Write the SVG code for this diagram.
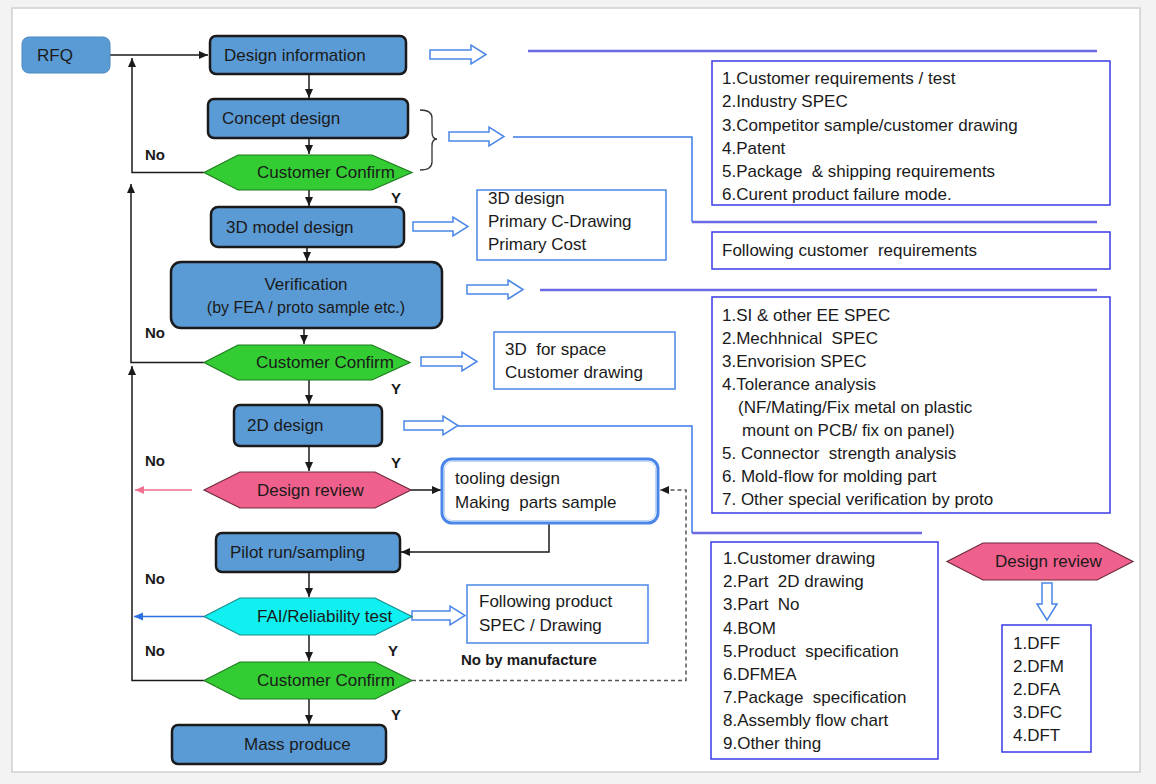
<svg xmlns="http://www.w3.org/2000/svg" width="1156" height="784" viewBox="0 0 1156 784">
<defs>
<style>
text{font-family:"Liberation Sans",Arial,sans-serif;font-size:17px;fill:#1a1a1a}
.node{fill:#5b9bd5;stroke:#1a1a1a;stroke-width:2.5}
.green{fill:#33cc33;stroke:#1f7a1f;stroke-width:1.2}
.pink{fill:#f0608c;stroke:#6a2a3a;stroke-width:1.2}
.cyan{fill:#10f0f0;stroke:#1a8a8a;stroke-width:1.2}
.box{fill:#fff;stroke:#3a3ae8;stroke-width:1.5}
.lbox{fill:#fff;stroke:#4a86e8;stroke-width:1.5}
.barrow{fill:#fff;stroke:#4a86e8;stroke-width:1.5}
.con{fill:none;stroke:#1a1a1a;stroke-width:1.5}
.line{fill:none;stroke:#6a6ae6;stroke-width:2.5}
.bline{fill:none;stroke:#3d7be8;stroke-width:1.5}
.b{font-weight:bold;font-size:15px}
.s{font-size:16px}
</style>
<marker id="ah" markerWidth="10" markerHeight="10" refX="9" refY="5" orient="auto" markerUnits="userSpaceOnUse"><path d="M0,1 L9,5 L0,9 Z" fill="#1a1a1a"/></marker>
<marker id="ahp" markerWidth="10" markerHeight="10" refX="9" refY="5" orient="auto" markerUnits="userSpaceOnUse"><path d="M0,1 L9,5 L0,9 Z" fill="#f07090"/></marker>
<marker id="ahb" markerWidth="10" markerHeight="10" refX="9" refY="5" orient="auto" markerUnits="userSpaceOnUse"><path d="M0,1 L9,5 L0,9 Z" fill="#2b6fe0"/></marker>
</defs>
<rect x="0" y="0" width="1156" height="784" fill="#f3f3f3"/>
<rect x="12" y="8" width="1128" height="764" fill="#fff" stroke="#cfcfcf" stroke-width="1.5"/>

<g id="connectors">
<path class="con" d="M110,55 H208" marker-end="url(#ah)"/>
<path class="con" d="M204,172.5 H132 V58" marker-end="url(#ah)"/>
<path class="con" d="M309,74 V98" marker-end="url(#ah)"/>
<path class="con" d="M309,138 V154" marker-end="url(#ah)"/>
<path class="con" d="M309,190 V206" marker-end="url(#ah)"/>
<path class="con" d="M307,247 V261" marker-end="url(#ah)"/>
<path class="con" d="M304,328 V344" marker-end="url(#ah)"/>
<path class="con" d="M204,362.5 H131 V184" marker-end="url(#ah)"/>
<path class="con" d="M309,380 V404" marker-end="url(#ah)"/>
<path class="con" d="M309,446 V471" marker-end="url(#ah)"/>
<path class="con" d="M411,490 H441" marker-end="url(#ah)"/>
<path d="M192,490 H135" fill="none" stroke="#f07090" stroke-width="1.5" marker-end="url(#ahp)"/>
<path class="con" d="M549,523 V552 H401" marker-end="url(#ah)"/>
<path class="con" d="M309,572 V597" marker-end="url(#ah)"/>
<path d="M204,616.5 H134" fill="none" stroke="#2b6fe0" stroke-width="1.5" marker-end="url(#ahb)"/>
<path class="con" d="M309,635 V661" marker-end="url(#ah)"/>
<path class="con" d="M309,699 V724" marker-end="url(#ah)"/>
<path class="con" d="M204,680.5 H132 V366" marker-end="url(#ah)"/>
<path d="M412,680.5 H686 V490 H660" fill="none" stroke="#555" stroke-width="1.5" stroke-dasharray="4,3" marker-end="url(#ah)"/>
<path class="line" d="M528,51 H1097"/>
<path class="bline" d="M513,137 H692 V222"/>
<path class="line" d="M692,222 H1097"/>
<path class="line" d="M540,290 H1097"/>
<path class="bline" d="M458,426 H692 V533"/>
<path class="line" d="M692,533 H922"/>
<path d="M420,110 Q432,110 432,118 V132 Q432,139 437,139 Q432,139 432,146 V162 Q432,170 420,170" fill="none" stroke="#333" stroke-width="1.3"/>
<polygon class="barrow" points="430,50 471,50 471,45 486,54.5 471,64 471,59 430,59"/>
<polygon class="barrow" points="449,132 489,132 489,127 504,136.5 489,146 489,141 449,141"/>
<polygon class="barrow" points="413,222 453,222 453,217 468,226.5 453,236 453,231 413,231"/>
<polygon class="barrow" points="467,285 508,285 508,280 523,289.5 508,299 508,294 467,294"/>
<polygon class="barrow" points="421,357 462,357 462,352 477,361.5 462,371 462,366 421,366"/>
<polygon class="barrow" points="404,421 443,421 443,416 458,425.5 443,435 443,430 404,430"/>
<polygon class="barrow" points="412,611 450,611 450,606 465,615.5 450,625 450,620 412,620"/>
<polygon class="barrow" points="1042,583 1052,583 1052,604 1057,604 1047,620 1037,604 1042,604"/>
</g>

<g id="rfq"><rect x="22" y="37" width="88" height="36" rx="7" fill="#5b9bd5" stroke="#4a88c0" stroke-width="1"/><text x="37" y="61">RFQ</text></g>
<g id="design-information"><rect class="node" x="210" y="36" width="196" height="38" rx="6"/><text x="224" y="61">Design information</text></g>
<g id="concept-design"><rect class="node" x="208" y="99" width="200" height="39" rx="6"/><text x="222" y="124">Concept design</text></g>
<g id="confirm-1"><polygon class="green" points="204,172.5 238,155 372,155 412,172.5 372,190 238,190"/><text x="257" y="178">Customer Confirm</text></g>
<g id="model-3d"><rect class="node" x="211" y="207" width="193" height="40" rx="7"/><text x="226" y="233">3D  model design</text></g>
<g id="verification"><rect class="node" x="171" y="262" width="271" height="66" rx="10"/><text x="306" y="290" text-anchor="middle">Verification</text><text class="s" x="306" y="313" text-anchor="middle">(by FEA / proto sample etc.)</text></g>
<g id="confirm-2"><polygon class="green" points="204,362.5 238,345 372,345 410,362.5 372,380 238,380"/><text x="256" y="368">Customer Confirm</text></g>
<g id="design-2d"><rect class="node" x="234" y="405" width="148" height="41" rx="6"/><text x="247" y="431">2D design</text></g>
<g id="design-review"><polygon class="pink" points="204,490 240,472 375,472 411,490 375,508 240,508"/><text x="257" y="496">Design review</text></g>
<g id="tooling"><rect x="442" y="459" width="216" height="64" rx="10" fill="#fff" stroke="#4a86e8" stroke-width="3"/><rect x="444.5" y="461.5" width="211" height="59" rx="8" fill="none" stroke="#bcd4f6" stroke-width="1"/><text x="455" y="484">tooling design</text><text x="455" y="508">Making&#160; parts sample</text></g>
<g id="pilot-run"><rect class="node" x="216" y="533" width="184" height="39" rx="6"/><text x="230" y="558">Pilot run/sampling</text></g>
<g id="fai"><polygon class="cyan" points="204,616.5 240,598 375,598 412,616.5 375,635 240,635"/><text x="257" y="622">FAI/Reliability test</text></g>
<g id="confirm-3"><polygon class="green" points="204,680.5 240,662 375,662 412,680.5 375,699 240,699"/><text x="257" y="686">Customer Confirm</text></g>
<g id="mass-produce"><rect class="node" x="172" y="725" width="214" height="39" rx="6"/><text x="244" y="750">Mass produce</text></g>

<g id="labels">
<text class="b" x="145" y="160">No</text>
<text class="b" x="391" y="203">Y</text>
<text class="b" x="145" y="338">No</text>
<text class="b" x="391" y="394">Y</text>
<text class="b" x="145" y="466">No</text>
<text class="b" x="391" y="468">Y</text>
<text class="b" x="145" y="584">No</text>
<text class="b" x="145" y="656">No</text>
<text class="b" x="388" y="656">Y</text>
<text class="b" x="391" y="720">Y</text>
<text class="b" x="461" y="665">No by manufacture</text>
</g>

<g id="info-3d"><rect class="lbox" x="477" y="190" width="189" height="70"/><text x="488" y="204">3D design</text><text x="488" y="227">Primary C-Drawing</text><text x="488" y="250">Primary Cost</text></g>
<g id="info-space"><rect class="lbox" x="494" y="332" width="181" height="57"/><text x="505" y="355">3D&#160; for space</text><text x="505" y="378">Customer drawing</text></g>
<g id="info-product"><rect class="lbox" x="467" y="585" width="181" height="58"/><text x="479" y="607">Following product</text><text x="479" y="631">SPEC / Drawing</text></g>
<g id="req-list"><rect class="box" x="712" y="61" width="398" height="144"/>
<text x="722" y="84">1.Customer requirements / test</text>
<text x="722" y="107">2.Industry SPEC</text>
<text x="722" y="131">3.Competitor sample/customer drawing</text>
<text x="722" y="154">4.Patent</text>
<text x="722" y="177">5.Package&#160; &amp; shipping requirements</text>
<text x="722" y="200">6.Curent product failure mode.</text></g>
<g id="follow-req"><rect class="box" x="712" y="232" width="398" height="37"/><text x="722" y="256">Following customer&#160; requirements</text></g>
<g id="spec-list"><rect class="box" x="712" y="297" width="398" height="216"/>
<text x="722" y="321">1.SI &amp; other EE SPEC</text>
<text x="722" y="344">2.Mechhnical&#160; SPEC</text>
<text x="722" y="367">3.Envorision SPEC</text>
<text x="722" y="390">4.Tolerance analysis</text>
<text x="738" y="413">(NF/Mating/Fix metal on plastic</text>
<text x="742" y="436">mount on PCB/ fix on panel)</text>
<text x="722" y="459">5. Connector&#160; strength analysis</text>
<text x="722" y="482">6. Mold-flow for molding part</text>
<text x="722" y="505">7. Other special verification by proto</text></g>
<g id="doc-list"><rect class="box" x="711" y="542" width="227" height="217"/>
<text x="723" y="564">1.Customer drawing</text>
<text x="723" y="587">2.Part&#160; 2D drawing</text>
<text x="723" y="610">3.Part&#160; No</text>
<text x="723" y="634">4.BOM</text>
<text x="723" y="657">5.Product&#160; specification</text>
<text x="723" y="680">6.DFMEA</text>
<text x="723" y="703">7.Package&#160; specification</text>
<text x="723" y="726">8.Assembly flow chart</text>
<text x="723" y="749">9.Other thing</text></g>
<g id="design-review-legend"><polygon class="pink" points="947,561.5 983,543 1097,543 1133,561.5 1097,580 983,580"/><text x="995" y="567">Design review</text></g>
<g id="dfx-list"><rect class="box" x="1002" y="625" width="89" height="127"/>
<text x="1013" y="649">1.DFF</text>
<text x="1013" y="672">2.DFM</text>
<text x="1013" y="695">2.DFA</text>
<text x="1013" y="718">3.DFC</text>
<text x="1013" y="741">4.DFT</text></g>
</svg>
